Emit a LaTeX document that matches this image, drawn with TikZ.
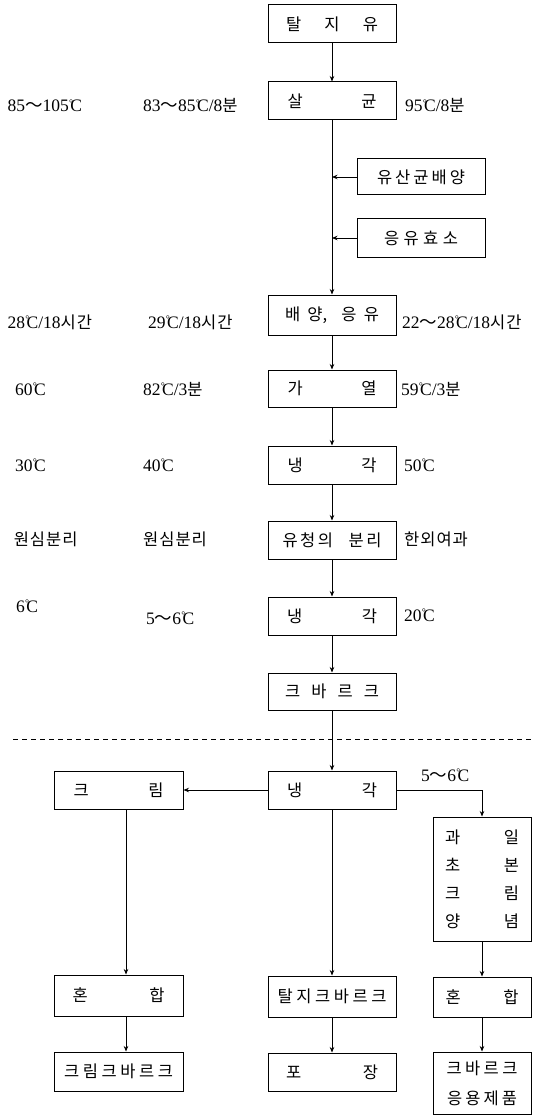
\documentclass[tikz,border=0pt]{standalone}
\usepackage{fontspec}
\setmainfont{Liberation Serif}
\newfontfamily\kr{Noto Sans CJK KR}
\newfontfamily\krl[LetterSpace=6]{Noto Sans CJK KR}
\usetikzlibrary{arrows.meta}
\newcommand{\K}[1]{{\fontsize{16.5}{19}\selectfont\krl #1}}
\newcommand{\W}{{\kr ～}}
\newcommand{\dc}{\kern0.2pt\raisebox{5.8pt}{\fontsize{10}{10}\selectfont °}\kern-2.8pt C}
\begin{document}
\begin{tikzpicture}[x=1pt,y=-1pt,
  font=\fontsize{17.5}{20}\selectfont,
  box/.style={draw, line width=1pt, inner sep=0pt, minimum width=128pt, minimum height=38pt,
    font=\fontsize{16.5}{19}\selectfont\kr},
  narrow/.style={minimum width=98pt},
  arr/.style={line width=0.8pt, -{Stealth[length=5.5pt,width=4.5pt]}},
  lab/.style={anchor=base west, inner sep=0pt}]
\useasboundingbox (0,0) rectangle (534,1115);

% main column
\node[box] (n1) at (332,24) {\makebox[92pt][s]{탈\hfill 지\hfill 유}};
\node[box] (n2) at (332,101) {\makebox[89pt][s]{살\hfill 균}};
\node[box, minimum height=36pt] (s1) at (421,177) {\makebox[88pt][s]{유\hfill 산\hfill 균\hfill 배\hfill 양}};
\node[box] (s2) at (421,238) {\makebox[74pt][s]{응\hfill 유\hfill 효\hfill 소}};
\node[box, minimum height=40pt] (n3) at (332,315) {\makebox[94pt][s]{배\hfill 양,\hfill\hfill 응\hfill 유}};
\node[box, minimum height=37pt] (n4) at (332,388.5) {\makebox[89pt][s]{가\hfill 열}};
\node[box] (n5) at (332,465) {\makebox[89pt][s]{냉\hfill 각}};
\node[box] (n6) at (332,540) {\makebox[99pt][s]{유\hspace{0pt plus 1fil}청\hspace{0pt plus 1fil}의\hspace{0pt plus 6fil}분\hspace{0pt plus 1fil}리}};
\node[box] (n7) at (332,616) {\makebox[90pt][s]{냉\hfill 각}};
\node[box, minimum height=37pt] (n8) at (332,691.5) {\makebox[94pt][s]{크\hfill 바\hfill 르\hfill 크}};

% dashed separator
\coordinate (dl) at (13,739.5);
\coordinate (dr) at (534,739.5);
\draw[line width=0.8pt, dash pattern=on 5pt off 4pt] (dl) -- (dr);

% lower part
\node[box] (n9) at (332,790) {\makebox[90pt][s]{냉\hfill 각}};
\node[box, minimum width=129pt] (c1) at (118.5,790) {\makebox[90pt][s]{크\hfill 림}};
\node[box, narrow, minimum height=124pt, align=center, font=\fontsize{16.5}{28}\selectfont\kr] (r1) at (482,879)
  {\makebox[74pt][s]{과\hfill 일}\\\makebox[74pt][s]{초\hfill 본}\\\makebox[74pt][s]{크\hfill 림}\\\makebox[74pt][s]{양\hfill 념}};
\node[box, minimum width=129pt, minimum height=41pt] (c2) at (118.5,995.5) {\makebox[92pt][s]{혼\hfill 합}};
\node[box, minimum width=129pt, minimum height=39pt] (c3) at (118.5,1071.5) {\makebox[109pt][s]{크\hfill 림\hfill 크\hfill 바\hfill 르\hfill 크}};
\node[box, minimum height=41pt] (m2) at (332,996.5) {\makebox[109pt][s]{탈\hfill 지\hfill 크\hfill 바\hfill 르\hfill 크}};
\node[box] (m3) at (332,1072) {\makebox[92pt][s]{포\hfill 장}};
\node[box, narrow, minimum height=40pt] (r2) at (482,997) {\makebox[73pt][s]{혼\hfill 합}};
\node[box, narrow, minimum height=62pt, align=center, font=\fontsize{16.5}{30}\selectfont\kr] (r3) at (482,1083)
  {\makebox[71pt][s]{크\hfill 바\hfill 르\hfill 크}\\\makebox[70pt][s]{응\hfill 용\hfill 제\hfill 품}};

% connectors
\draw[arr] (n1) -- (n2);
\draw[arr] (n2) -- (n3);
\draw[arr] (s1.west) -- (s1.west -| n2.south);
\draw[arr] (s2.west) -- (s2.west -| n2.south);
\draw[arr] (n3) -- (n4);
\draw[arr] (n4) -- (n5);
\draw[arr] (n5) -- (n6);
\draw[arr] (n6) -- (n7);
\draw[arr] (n7) -- (n8);
\draw[arr] (n8) -- (n9);
\draw[arr] (n9.west) -- (c1.east);
\draw[arr] (n9.east) -| (r1.north);
\draw[arr] ([xshift=7.5pt]c1.south) -- ([xshift=7.5pt]c2.north);
\draw[arr] ([xshift=7.5pt]c2.south) -- ([xshift=7.5pt]c3.north);
\draw[arr] (n9) -- (m2);
\draw[arr] (m2) -- (m3);
\draw[arr] (r1) -- (r2);
\draw[arr] (r2) -- (r3);

% side labels
\node[lab] (a1) at (7.5,112) {85\W105\dc};
\node[lab] (b1) at (143,112) {83\W85\dc/8\K{분}};
\node[lab] (c1l) at (405,112) {95\dc/8\K{분}};
\node[lab] (a2) at (7.5,328) {28\dc/18\K{시간}};
\node[lab] (b2) at (148,328) {29\dc/18\K{시간}};
\node[lab] (c2l) at (402,328) {22\W28\dc/18\K{시간}};
\node[lab] (a3) at (15,395) {60\dc};
\node[lab] (b3) at (143,395) {82\dc/3\K{분}};
\node[lab] (c3l) at (401,395) {59\dc/3\K{분}};
\node[lab] (a4) at (15,471) {30\dc};
\node[lab] (b4) at (143,471) {40\dc};
\node[lab] (c4l) at (404,471) {50\dc};
\node[lab] (a5) at (13.6,545) {\K{원심분리}};
\node[lab] (b5) at (143,545) {\K{원심분리}};
\node[lab] (c5l) at (404,545) {\K{한외여과}};
\node[lab] (a6) at (16,612) {6\dc};
\node[lab] (b6) at (146,624) {5\W6\dc};
\node[lab] (c6l) at (404,621) {20\dc};
\node[lab] (d1) at (421,781) {5\W6\dc};
\end{tikzpicture}
\end{document}
